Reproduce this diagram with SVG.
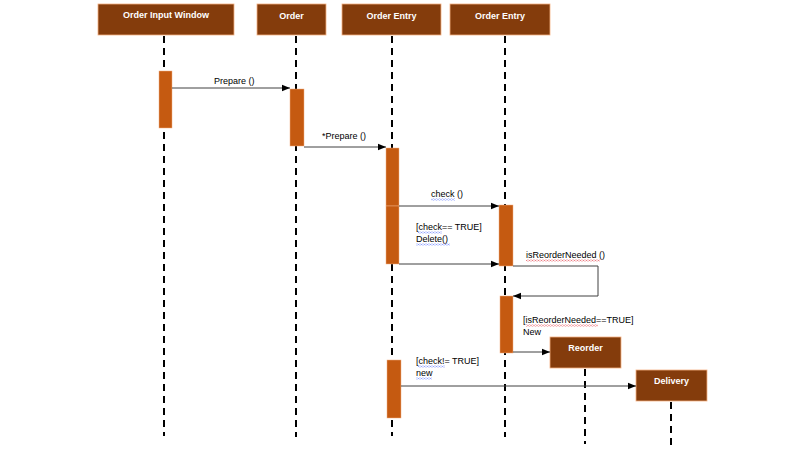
<svg xmlns="http://www.w3.org/2000/svg" width="800" height="452" viewBox="0 0 800 452">
<style>
.head{fill:#843C0C;stroke:#F4B183;stroke-width:0.8}
.htxt{font-family:"Liberation Sans",Arial,sans-serif;font-size:9px;font-weight:bold;fill:#ffffff;text-anchor:middle}
.life{stroke:#000;stroke-width:2;stroke-dasharray:7 5;fill:none}
.bar{fill:#C55A11;stroke:#F4B183;stroke-width:0.5}
.msg{stroke:#404040;stroke-width:1;fill:none;marker-end:url(#arr)}
.lbl{font-family:"Liberation Sans",Arial,sans-serif;font-size:9px;fill:#000}
</style>
<defs>
<marker id="arr" viewBox="0 0 8 8" refX="8" refY="4" markerWidth="8" markerHeight="8" markerUnits="userSpaceOnUse" orient="auto">
<path d="M0,0.8 L8,4 L0,7.2 Z" fill="#000"/>
</marker>
<pattern id="wb" patternUnits="userSpaceOnUse" width="3" height="2"><path d="M0,1.8 L1.5,0.2 L3,1.8" stroke="#4060ff" stroke-width="0.6" fill="none"/></pattern>
<pattern id="wr" patternUnits="userSpaceOnUse" width="3" height="2"><path d="M0,1.8 L1.5,0.2 L3,1.8" stroke="#e0202a" stroke-width="0.6" fill="none"/></pattern>
</defs>
<rect width="800" height="452" fill="#ffffff"/>

<g id="lifelines">
<line class="life" x1="164" y1="36" x2="164" y2="436"/>
<line class="life" x1="296" y1="36" x2="296" y2="437"/>
<line class="life" x1="392" y1="36" x2="392" y2="436"/>
<line class="life" x1="505" y1="36" x2="505" y2="437"/>
<line class="life" x1="585" y1="369" x2="585" y2="444"/>
<line class="life" x1="671" y1="402" x2="671" y2="445"/>
</g>

<g id="node-order-input-window">
<rect class="head" x="98" y="4" width="136" height="31"/>
<text class="htxt" x="166" y="18">Order Input Window</text>
</g>
<g id="node-order">
<rect class="head" x="257" y="4" width="69" height="31"/>
<text class="htxt" x="291.5" y="19">Order</text>
</g>
<g id="node-order-entry-1">
<rect class="head" x="342" y="4" width="99" height="31"/>
<text class="htxt" x="391.5" y="19">Order Entry</text>
</g>
<g id="node-order-entry-2">
<rect class="head" x="450" y="4" width="100" height="31"/>
<text class="htxt" x="500" y="19">Order Entry</text>
</g>
<g id="node-reorder">
<rect class="head" x="550" y="337" width="71" height="31"/>
<text class="htxt" x="585.5" y="351">Reorder</text>
</g>
<g id="node-delivery">
<rect class="head" x="636" y="370" width="71" height="31"/>
<text class="htxt" x="671.5" y="384">Delivery</text>
</g>

<g id="activations">
<rect class="bar" x="159" y="71" width="13" height="57"/>
<rect class="bar" x="290" y="89" width="14" height="57"/>
<rect class="bar" x="386" y="148" width="13" height="58"/>
<rect class="bar" x="386" y="206" width="13" height="58"/>
<rect class="bar" x="499" y="205" width="14" height="61"/>
<rect class="bar" x="500" y="296" width="13" height="57"/>
<rect class="bar" x="387" y="360" width="14" height="58"/>
</g>

<g id="connectors">
<line class="msg" x1="172" y1="88" x2="290" y2="88"/>
<line class="msg" x1="304" y1="147" x2="386" y2="147"/>
<line class="msg" x1="399" y1="206" x2="499" y2="206"/>
<line class="msg" x1="399" y1="264" x2="499" y2="264"/>
<polyline class="msg" points="513,266 598,266 598,296 513,296"/>
<line class="msg" x1="513" y1="352" x2="550" y2="352"/>
<line class="msg" x1="401" y1="386" x2="636" y2="386"/>
</g>

<g id="labels">
<text class="lbl" x="214" y="84">Prepare ()</text>
<text class="lbl" x="322" y="139">*Prepare ()</text>
<text class="lbl" x="431" y="197">check ()</text>
<text class="lbl" x="416" y="230">[check== TRUE]</text>
<text class="lbl" x="416" y="242">Delete()</text>
<text class="lbl" x="526" y="258">isReorderNeeded ()</text>
<text class="lbl" x="523" y="323">[isReorderNeeded==TRUE]</text>
<text class="lbl" x="523" y="335">New</text>
<text class="lbl" x="416" y="364">[check!= TRUE]</text>
<text class="lbl" x="416" y="376">new</text>
</g>

<g id="spellcheck-marks">
<rect x="431" y="198.5" width="24" height="2" fill="url(#wb)"/>
<rect x="418" y="231.5" width="24" height="2" fill="url(#wb)"/>
<rect x="416" y="243.5" width="34" height="2" fill="url(#wb)"/>
<rect x="526" y="259.5" width="74" height="2" fill="url(#wr)"/>
<rect x="526" y="324.5" width="72" height="2" fill="url(#wr)"/>
<rect x="418" y="365.5" width="27" height="2" fill="url(#wb)"/>
<rect x="416" y="377.5" width="16" height="2" fill="url(#wb)"/>
</g>
</svg>
